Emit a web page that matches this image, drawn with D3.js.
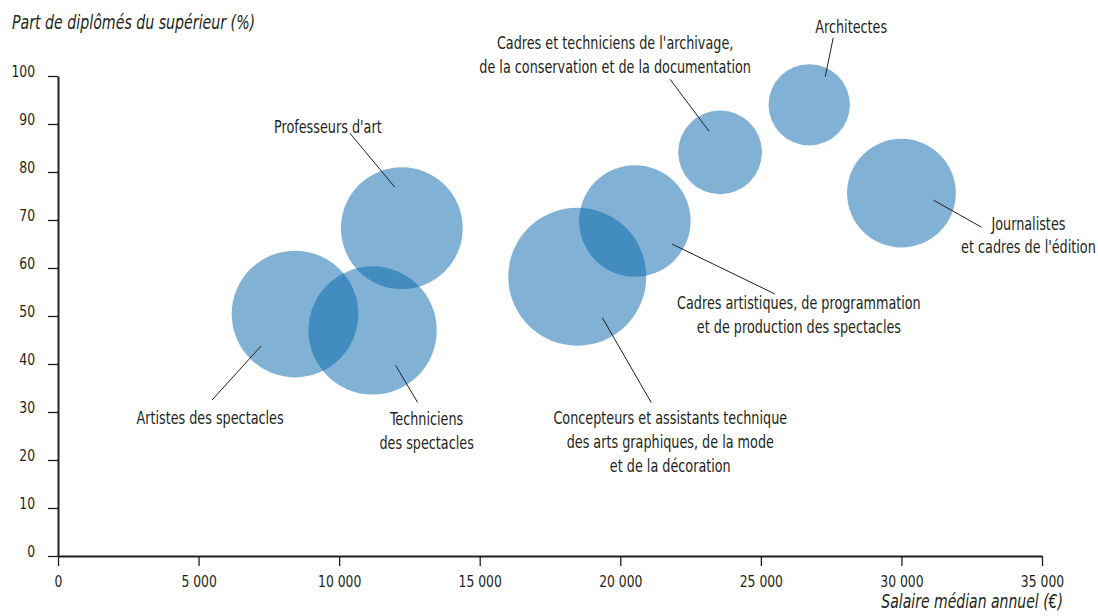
<html>
<style>
    body {
        margin: 0;
        background: #ffffff;
    }
    svg text {
        font-family: "DejaVu Sans Condensed", "DejaVu Sans", sans-serif;
        fill: #231f20;
    }
    .axis path, .axis line {
        stroke: #231f20;
    }
    .leader {
        stroke: #231f20;
        stroke-width: 1;
    }
</style>
<script src="https://d3js.org/d3.v7.min.js"></script>
<body>
<svg id="chart" width="1098" height="616"></svg>
</body>
<script>

  // métiers de la culture : salaire médian, part de diplômés, effectifs (milliers, estimés)
  const metiers = [
    "Artistes des spectacles",
    "Techniciens des spectacles",
    "Professeurs d'art",
    "Concepteurs et assistants technique des arts graphiques, de la mode et de la décoration",
    "Cadres artistiques, de programmation et de production des spectacles",
    "Cadres et techniciens de l'archivage, de la conservation et de la documentation",
    "Architectes",
    "Journalistes et cadres de l'édition"
  ]
  const salaires = [8430, 11190, 12230, 18470, 20520, 23550, 26720, 30000]
  const diplomes = [50.4, 47.0, 68.3, 58.2, 69.8, 84.1, 94.0, 75.6]
  const effectifs = [80, 82, 74, 95, 62, 35, 33, 59]

  const xTicks = [0, 5000, 10000, 15000, 20000, 25000, 30000, 35000]
  const yTicks = [0, 10, 20, 30, 40, 50, 60, 70, 80, 90, 100]

  // étiquettes : lignes de texte + placement (px, relatif au centre de la bulle)
  const annotations = [
    {lines: ["Artistes des spectacles"], line: [-34, 32, -83, 86], label: [-85, 103]},
    {lines: ["Techniciens", "des spectacles"], line: [23, 35, 45, 72], label: [54, 88]},
    {lines: ["Professeurs d'art"], line: [-7, -41, -52, -95], label: [-74, -102]},
    {lines: ["Concepteurs et assistants technique", "des arts graphiques, de la mode", "et de la décoration"], line: [25, 41, 74, 126], label: [93, 141]},
    {lines: ["Cadres artistiques, de programmation", "et de production des spectacles"], line: [37, 23, 140, 73], label: [164, 82]},
    {lines: ["Cadres et techniciens de l'archivage,", "de la conservation et de la documentation"], line: [-11, -21, -50, -73], label: [-105, -110]},
    {lines: ["Architectes"], line: [16, -28, 24, -67], label: [42, -78]},
    {lines: ["Journalistes", "et cadres de l'édition"], line: [32, 7, 80, 34], label: [127, 30]}
  ]

  const data = metiers.map((m, i) => ({
    metier: m,
    salaire: salaires[i],
    diplome: diplomes[i],
    effectif: effectifs[i],
    note: annotations[i]
  }))

  const svg = d3.select('#chart')

  const x = d3.scaleLinear().domain([0, 35000]).range([58, 1042])
  const y = d3.scaleLinear().domain([0, 100]).range([556, 76])
  const r = d3.scaleSqrt().domain([0, 95]).range([0, 69])

  const fr = d3.formatLocale({decimal: ",", thousands: " ", grouping: [3], currency: ["", " €"]})

  // the original uses a condensed face: squeeze text horizontally
  function condense(sel, k) {
    sel.each(function() {
      const t = d3.select(this)
      const tx = +t.attr("x") || 0
      t.attr("x", 0).attr("transform", `translate(${tx},0) scale(${k},1)`)
    })
  }

  // axes
  const xAxis = svg.append("g")
      .attr("class", "axis")
      .attr("transform", "translate(0,556)")
      .call(d3.axisBottom(x).tickValues(xTicks).tickSize(10).tickSizeOuter(0).tickPadding(10).tickFormat(fr.format(",d")))
  xAxis.select(".domain").attr("stroke-width", 2)
  xAxis.selectAll(".tick line").attr("stroke-width", 1.3)
  xAxis.selectAll("text").style("font-size", "16px").call(condense, 0.86)

  const yAxis = svg.append("g")
      .attr("class", "axis")
      .attr("transform", "translate(58,0)")
      .call(d3.axisLeft(y).tickValues(yTicks).tickSize(10).tickSizeOuter(0).tickPadding(13))
  yAxis.select(".domain").attr("stroke-width", 2)
  yAxis.selectAll(".tick line").attr("stroke-width", 1.3)
  yAxis.selectAll("text").style("font-size", "16px").attr("dy", "0.05em").call(condense, 0.86)

  // titres des axes
  svg.append("text")
      .attr("x", 12).attr("y", 29)
      .style("font-size", "19px").style("font-style", "italic")
      .text("Part de diplômés du supérieur (%)")
      .call(condense, 0.83)
  svg.append("text")
      .attr("x", 1063).attr("y", 608)
      .attr("text-anchor", "end")
      .style("font-size", "19px").style("font-style", "italic")
      .text("Salaire médian annuel (€)")
      .call(condense, 0.82)

  // bulles
  svg.append("g").selectAll("circle").data(data)
      .enter().append("circle")
      .attr("cx", d => x(d.salaire))
      .attr("cy", d => y(d.diplome))
      .attr("r", d => r(d.effectif))
      .attr("fill", "rgb(3,101,172)")
      .attr("fill-opacity", 0.5)

  // traits de rappel
  svg.append("g").selectAll("line").data(data)
      .enter().append("line")
      .attr("class", "leader")
      .attr("x1", d => x(d.salaire) + d.note.line[0])
      .attr("y1", d => y(d.diplome) + d.note.line[1])
      .attr("x2", d => x(d.salaire) + d.note.line[2])
      .attr("y2", d => y(d.diplome) + d.note.line[3])

  // étiquettes
  const labels = svg.append("g").selectAll("text").data(data)
      .enter().append("text")
      .attr("text-anchor", "middle")
      .style("font-size", "18px")
      .attr("transform", d => `translate(${x(d.salaire) + d.note.label[0]},${y(d.diplome) + d.note.label[1]}) scale(0.79,1)`)
  labels.selectAll("tspan").data(d => d.note.lines)
      .enter().append("tspan")
      .attr("x", 0)
      .attr("y", (l, i) => i * 23.8)
      .attr("dy", "0.36em")
      .text(l => l)

</script>
</html>
